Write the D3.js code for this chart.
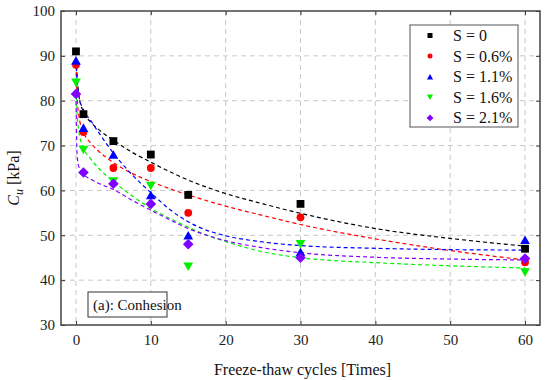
<!DOCTYPE html>
<html>
<head>
<meta charset="utf-8">
<script src="https://cdn.jsdelivr.net/npm/d3@7"></script>
<style>
  body { margin: 0; background: #fff; }
  svg { display: block; }
  svg text { font-family: "Liberation Serif", "Times New Roman", Times, Tinos, "Noto Serif", "DejaVu Serif", serif; }
  .grid line { stroke: #c8c8c8; stroke-width: 1; stroke-dasharray: 5,4; }
  .tick_lab { font-size: 15px; fill: #222; }
</style>
</head>
<body>
<svg id="chart" width="550" height="380"></svg>
<script>
//---DATA (measured points)
var cycles = [0, 1, 5, 10, 15, 30, 60];
var cu_s0 = [91, 77, 71, 68, 59, 57, 47];
var cu_s06 = [88, 73, 65, 65, 55, 54, 44];
var cu_s11 = [89, 74, 68, 59, 50, 46.3, 49];
var cu_s16 = [84, 69, 62, 61, 43, 48, 41.7];
var cu_s21 = [81.5, 64, 61.5, 57, 48, 45, 44.8];

//---DATA (fitted dashed curves)
var fit_x = [0, 0.15, 0.4, 1, 2, 3, 5, 7.5, 10, 12.5, 15, 17.5, 20, 25, 30, 40, 50, 60];
var fit_s0 = [91, 86, 81, 77.5, 75.2, 73.6, 71.2, 68.5, 66.3, 64.2, 62.3, 60.7, 59.3, 57, 54.9, 51.5, 49.3, 47.6];
var fit_s06 = [88, 81, 76.5, 73, 70.5, 68.8, 66.2, 63.8, 62, 60.4, 59, 57.7, 56.5, 54.4, 52.4, 49.2, 46.6, 44.5];
var fit_s11 = [89, 84.5, 81, 78, 75.5, 73, 68.3, 63.5, 59.5, 55.8, 53, 51.1, 49.9, 48.5, 47.7, 47.1, 46.8, 46.7];
var fit_s16 = [84, 77.5, 73, 69.5, 67, 65, 62, 58.8, 56, 53.8, 51.8, 50, 48.6, 46.3, 45, 43.9, 43.2, 42.7];
var fit_s21 = [81.5, 68, 65.2, 63.6, 62.5, 61.6, 60.2, 57.8, 55.6, 53.5, 51.5, 50, 48.8, 47.2, 46.1, 45.1, 44.7, 44.5];

var series_names = ['S = 0', 'S = 0.6%', 'S = 1.1%', 'S = 1.6%', 'S = 2.1%'];
var x_ticks = [0, 10, 20, 30, 40, 50, 60];
var y_ticks = [30, 40, 50, 60, 70, 80, 90, 100];

(function() {
  'use strict';

  var points = [cu_s0, cu_s06, cu_s11, cu_s16, cu_s21];
  var fits = [fit_s0, fit_s06, fit_s11, fit_s16, fit_s21];
  var colors = ['#000000', '#ff0000', '#0000ff', '#00f000', '#8000ff'];
  var shapes = ['square', 'circle', 'up', 'down', 'diamond'];

  //-----SIZES
  var left = 61, right = 540, top = 11, bottom = 325;
  var tick_len = 4;

  var svg = d3.select('#chart');

  //----SCALES
  var x = d3.scaleLinear().domain([-2, 62]).range([left, right]);
  var y = d3.scaleLinear().domain([30, 100]).range([bottom, top]);

  //---GRID
  var grid = svg.append('g').attr('class', 'grid');
  grid.selectAll('.gx')
    .data(x_ticks)
    .enter()
    .append('line')
    .attr('x1', function(d) { return x(d); })
    .attr('x2', function(d) { return x(d); })
    .attr('y1', top)
    .attr('y2', bottom);
  grid.selectAll('.gy')
    .data(y_ticks.filter(function(d) { return d > 30 && d < 100; }))
    .enter()
    .append('line')
    .attr('x1', left)
    .attr('x2', right)
    .attr('y1', function(d) { return y(d); })
    .attr('y2', function(d) { return y(d); });

  //---AXES (ticks inward on all four sides)
  var ax_bottom = d3.axisBottom(x).tickValues(x_ticks).tickSizeInner(-tick_len).tickSizeOuter(0).tickPadding(9);
  var ax_left = d3.axisLeft(y).tickValues(y_ticks).tickSizeInner(-tick_len).tickSizeOuter(0).tickPadding(6);
  var ax_top = d3.axisTop(x).tickValues(x_ticks).tickSizeInner(-tick_len).tickSizeOuter(0).tickFormat('');
  var ax_right = d3.axisRight(y).tickValues(y_ticks).tickSizeInner(-tick_len).tickSizeOuter(0).tickFormat('');

  function style_axis(g) {
    g.attr('font-family', null);
    g.select('.domain').remove();
    g.selectAll('.tick line').attr('stroke', '#333').attr('stroke-width', 1);
    g.selectAll('.tick text').attr('class', 'tick_lab');
  }

  svg.append('g').attr('transform', 'translate(0,' + bottom + ')').call(ax_bottom).call(style_axis);
  svg.append('g').attr('transform', 'translate(' + left + ',0)').call(ax_left).call(style_axis);
  svg.append('g').attr('transform', 'translate(0,' + top + ')').call(ax_top).call(style_axis);
  svg.append('g').attr('transform', 'translate(' + right + ',0)').call(ax_right).call(style_axis);

  //---FRAME
  svg.append('rect')
    .attr('x', left)
    .attr('y', top)
    .attr('width', right - left)
    .attr('height', bottom - top)
    .attr('fill', 'none')
    .attr('stroke', '#444')
    .attr('stroke-width', 1.5);

  //---FIT CURVES
  var line = d3.line()
    .x(function(d) { return x(d[0]); })
    .y(function(d) { return y(d[1]); })
    .curve(d3.curveMonotoneX);

  fits.forEach(function(vals, k) {
    svg.append('path')
      .datum(fit_x.map(function(v, i) { return [v, vals[i]]; }))
      .attr('d', line)
      .attr('fill', 'none')
      .attr('stroke', colors[k])
      .attr('stroke-width', 1.2)
      .attr('stroke-dasharray', '4,3');
  });

  //---MARKERS
  function draw_marker(g, shape, cx, cy, s, color) {
    if (shape === 'square') {
      g.append('rect').attr('x', cx - s / 2).attr('y', cy - s / 2)
        .attr('width', s).attr('height', s).attr('fill', color);
    } else if (shape === 'circle') {
      g.append('circle').attr('cx', cx).attr('cy', cy).attr('r', s / 2).attr('fill', color);
    } else if (shape === 'up' || shape === 'down') {
      var w = s * 1.25, h = s * 1.1, dir = shape === 'up' ? 1 : -1;
      var pts = [[cx - w / 2, cy + dir * h / 2], [cx + w / 2, cy + dir * h / 2], [cx, cy - dir * h / 2]];
      g.append('path').attr('d', 'M' + pts.join('L') + 'Z').attr('fill', color);
    } else {
      var r = s * 0.68;
      g.append('path')
        .attr('d', 'M' + cx + ',' + (cy - r) + 'L' + (cx + r) + ',' + cy + 'L' + cx + ',' + (cy + r) + 'L' + (cx - r) + ',' + cy + 'Z')
        .attr('fill', color);
    }
  }

  var marks = svg.append('g');
  points.forEach(function(vals, k) {
    vals.forEach(function(v, i) {
      draw_marker(marks, shapes[k], x(cycles[i]), y(v), 7.8, colors[k]);
    });
  });

  //---LEGEND
  var leg = svg.append('g').attr('transform', 'translate(410,25)');
  leg.append('rect')
    .attr('width', 108)
    .attr('height', 102)
    .attr('fill', '#fff')
    .attr('stroke', '#555')
    .attr('stroke-width', 1);
  series_names.forEach(function(name, k) {
    var ry = 10.5 + k * 20.6;
    draw_marker(leg, shapes[k], 20, ry, 5, colors[k]);
    leg.append('text')
      .attr('x', 43)
      .attr('y', ry + 5.5)
      .style('font-size', '16px')
      .attr('fill', '#111')
      .text(name);
  });

  //---LABEL BOX
  var lab = svg.append('g').attr('transform', 'translate(88,292)');
  lab.append('rect')
    .attr('width', 79)
    .attr('height', 25)
    .attr('fill', '#fff')
    .attr('stroke', '#333')
    .attr('stroke-width', 1);
  lab.append('text')
    .attr('x', 5)
    .attr('y', 18)
    .style('font-size', '15px')
    .attr('fill', '#111')
    .text('(a): Conhesion');

  //---AXIS TITLES
  svg.append('text')
    .attr('x', (left + right) / 2 + 2)
    .attr('y', 375)
    .attr('text-anchor', 'middle')
    .style('font-size', '16px')
    .attr('fill', '#111')
    .text('Freeze-thaw cycles [Times]');

  var ylab = svg.append('text')
    .attr('transform', 'translate(19,178) rotate(-90)')
    .attr('text-anchor', 'middle')
    .style('font-size', '16px')
    .attr('fill', '#111');
  ylab.append('tspan').style('font-style', 'italic').text('C');
  ylab.append('tspan').style('font-style', 'italic').style('font-size', '12px').attr('dy', 4).text('u');
  ylab.append('tspan').attr('dy', -4).text(' [kPa]');

})();
</script>
</body>
</html>
